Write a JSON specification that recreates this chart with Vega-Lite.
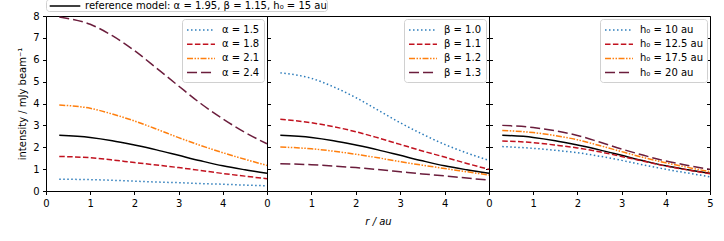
{
  "$schema": "https://vega.github.io/schema/vega-lite/v6.json",
  "padding": {"left": 17, "top": -2, "right": 5, "bottom": 5},
  "spacing": 0,
  "bounds": "flush",
  "datasets": {
    "ref": [
      {"r": 0.3, "v": 2.55}, {"r": 1, "v": 2.45}, {"r": 1.5, "v": 2.3}, {"r": 2, "v": 2.1}, {"r": 2.5, "v": 1.88},
      {"r": 3, "v": 1.63}, {"r": 3.5, "v": 1.38}, {"r": 4, "v": 1.15}, {"r": 4.5, "v": 0.97}, {"r": 5, "v": 0.81}
    ],
    "p1": [
      {"s": "α = 1.5", "r": 0.3, "v": 0.54}, {"s": "α = 1.5", "r": 1, "v": 0.52}, {"s": "α = 1.5", "r": 1.5, "v": 0.49}, {"s": "α = 1.5", "r": 2, "v": 0.45}, {"s": "α = 1.5", "r": 2.5, "v": 0.41},
      {"s": "α = 1.5", "r": 3, "v": 0.38}, {"s": "α = 1.5", "r": 3.5, "v": 0.34}, {"s": "α = 1.5", "r": 4, "v": 0.31}, {"s": "α = 1.5", "r": 4.5, "v": 0.27}, {"s": "α = 1.5", "r": 5, "v": 0.24},
      {"s": "α = 1.8", "r": 0.3, "v": 1.58}, {"s": "α = 1.8", "r": 1, "v": 1.52}, {"s": "α = 1.8", "r": 1.5, "v": 1.42}, {"s": "α = 1.8", "r": 2, "v": 1.3}, {"s": "α = 1.8", "r": 2.5, "v": 1.19},
      {"s": "α = 1.8", "r": 3, "v": 1.07}, {"s": "α = 1.8", "r": 3.5, "v": 0.94}, {"s": "α = 1.8", "r": 4, "v": 0.8}, {"s": "α = 1.8", "r": 4.5, "v": 0.68}, {"s": "α = 1.8", "r": 5, "v": 0.56},
      {"s": "α = 2.1", "r": 0.3, "v": 3.93}, {"s": "α = 2.1", "r": 1, "v": 3.78}, {"s": "α = 2.1", "r": 1.5, "v": 3.52}, {"s": "α = 2.1", "r": 2, "v": 3.2}, {"s": "α = 2.1", "r": 2.5, "v": 2.83},
      {"s": "α = 2.1", "r": 3, "v": 2.44}, {"s": "α = 2.1", "r": 3.5, "v": 2.08}, {"s": "α = 2.1", "r": 4, "v": 1.75}, {"s": "α = 2.1", "r": 4.5, "v": 1.45}, {"s": "α = 2.1", "r": 5, "v": 1.17},
      {"s": "α = 2.4", "r": 0.3, "v": 7.95}, {"s": "α = 2.4", "r": 1, "v": 7.62}, {"s": "α = 2.4", "r": 1.5, "v": 7.1}, {"s": "α = 2.4", "r": 2, "v": 6.42}, {"s": "α = 2.4", "r": 2.5, "v": 5.62},
      {"s": "α = 2.4", "r": 3, "v": 4.8}, {"s": "α = 2.4", "r": 3.5, "v": 4.0}, {"s": "α = 2.4", "r": 4, "v": 3.3}, {"s": "α = 2.4", "r": 4.5, "v": 2.68}, {"s": "α = 2.4", "r": 5, "v": 2.16}
    ],
    "p2": [
      {"s": "β = 1.0", "r": 0.3, "v": 5.4}, {"s": "β = 1.0", "r": 1, "v": 5.15}, {"s": "β = 1.0", "r": 1.5, "v": 4.76}, {"s": "β = 1.0", "r": 2, "v": 4.27}, {"s": "β = 1.0", "r": 2.5, "v": 3.7},
      {"s": "β = 1.0", "r": 3, "v": 3.12}, {"s": "β = 1.0", "r": 3.5, "v": 2.6}, {"s": "β = 1.0", "r": 4, "v": 2.13}, {"s": "β = 1.0", "r": 4.5, "v": 1.74}, {"s": "β = 1.0", "r": 5, "v": 1.4},
      {"s": "β = 1.1", "r": 0.3, "v": 3.28}, {"s": "β = 1.1", "r": 1, "v": 3.12}, {"s": "β = 1.1", "r": 1.5, "v": 2.94}, {"s": "β = 1.1", "r": 2, "v": 2.71}, {"s": "β = 1.1", "r": 2.5, "v": 2.43},
      {"s": "β = 1.1", "r": 3, "v": 2.13}, {"s": "β = 1.1", "r": 3.5, "v": 1.83}, {"s": "β = 1.1", "r": 4, "v": 1.55}, {"s": "β = 1.1", "r": 4.5, "v": 1.26}, {"s": "β = 1.1", "r": 5, "v": 0.99},
      {"s": "β = 1.2", "r": 0.3, "v": 2.01}, {"s": "β = 1.2", "r": 1, "v": 1.93}, {"s": "β = 1.2", "r": 1.5, "v": 1.82}, {"s": "β = 1.2", "r": 2, "v": 1.68}, {"s": "β = 1.2", "r": 2.5, "v": 1.52},
      {"s": "β = 1.2", "r": 3, "v": 1.34}, {"s": "β = 1.2", "r": 3.5, "v": 1.18}, {"s": "β = 1.2", "r": 4, "v": 1.03}, {"s": "β = 1.2", "r": 4.5, "v": 0.88}, {"s": "β = 1.2", "r": 5, "v": 0.73},
      {"s": "β = 1.3", "r": 0.3, "v": 1.25}, {"s": "β = 1.3", "r": 1, "v": 1.2}, {"s": "β = 1.3", "r": 1.5, "v": 1.14}, {"s": "β = 1.3", "r": 2, "v": 1.07}, {"s": "β = 1.3", "r": 2.5, "v": 0.98},
      {"s": "β = 1.3", "r": 3, "v": 0.88}, {"s": "β = 1.3", "r": 3.5, "v": 0.78}, {"s": "β = 1.3", "r": 4, "v": 0.69}, {"s": "β = 1.3", "r": 4.5, "v": 0.59}, {"s": "β = 1.3", "r": 5, "v": 0.5}
    ],
    "p3": [
      {"s": "h₀ = 10 au", "r": 0.3, "v": 2.03}, {"s": "h₀ = 10 au", "r": 1, "v": 1.95}, {"s": "h₀ = 10 au", "r": 1.5, "v": 1.86}, {"s": "h₀ = 10 au", "r": 2, "v": 1.75}, {"s": "h₀ = 10 au", "r": 2.5, "v": 1.59},
      {"s": "h₀ = 10 au", "r": 3, "v": 1.4}, {"s": "h₀ = 10 au", "r": 3.5, "v": 1.19}, {"s": "h₀ = 10 au", "r": 4, "v": 0.99}, {"s": "h₀ = 10 au", "r": 4.5, "v": 0.82}, {"s": "h₀ = 10 au", "r": 5, "v": 0.65},
      {"s": "h₀ = 12.5 au", "r": 0.3, "v": 2.29}, {"s": "h₀ = 12.5 au", "r": 1, "v": 2.21}, {"s": "h₀ = 12.5 au", "r": 1.5, "v": 2.1}, {"s": "h₀ = 12.5 au", "r": 2, "v": 1.97}, {"s": "h₀ = 12.5 au", "r": 2.5, "v": 1.79},
      {"s": "h₀ = 12.5 au", "r": 3, "v": 1.58}, {"s": "h₀ = 12.5 au", "r": 3.5, "v": 1.36}, {"s": "h₀ = 12.5 au", "r": 4, "v": 1.14}, {"s": "h₀ = 12.5 au", "r": 4.5, "v": 0.96}, {"s": "h₀ = 12.5 au", "r": 5, "v": 0.79},
      {"s": "h₀ = 17.5 au", "r": 0.3, "v": 2.77}, {"s": "h₀ = 17.5 au", "r": 1, "v": 2.67}, {"s": "h₀ = 17.5 au", "r": 1.5, "v": 2.53}, {"s": "h₀ = 17.5 au", "r": 2, "v": 2.34}, {"s": "h₀ = 17.5 au", "r": 2.5, "v": 2.08},
      {"s": "h₀ = 17.5 au", "r": 3, "v": 1.8}, {"s": "h₀ = 17.5 au", "r": 3.5, "v": 1.53}, {"s": "h₀ = 17.5 au", "r": 4, "v": 1.29}, {"s": "h₀ = 17.5 au", "r": 4.5, "v": 1.08}, {"s": "h₀ = 17.5 au", "r": 5, "v": 0.88},
      {"s": "h₀ = 20 au", "r": 0.3, "v": 3.0}, {"s": "h₀ = 20 au", "r": 1, "v": 2.9}, {"s": "h₀ = 20 au", "r": 1.5, "v": 2.75}, {"s": "h₀ = 20 au", "r": 2, "v": 2.54}, {"s": "h₀ = 20 au", "r": 2.5, "v": 2.24},
      {"s": "h₀ = 20 au", "r": 3, "v": 1.92}, {"s": "h₀ = 20 au", "r": 3.5, "v": 1.63}, {"s": "h₀ = 20 au", "r": 4, "v": 1.37}, {"s": "h₀ = 20 au", "r": 4.5, "v": 1.17}, {"s": "h₀ = 20 au", "r": 5, "v": 0.99}
    ]
  },
  "hconcat": [
    {
      "width": 221, "height": 175,
      "encoding": {
        "x": {"field": "r", "type": "quantitative", "scale": {"domain": [0, 5], "nice": false}, "axis": {"values": [0, 1, 2, 3, 4], "title": null, "labelOverlap": false}},
        "y": {"field": "v", "type": "quantitative", "scale": {"domain": [0, 8], "nice": false}, "axis": {"values": [0, 1, 2, 3, 4, 5, 6, 7, 8], "title": "intensity / mJy beam⁻¹", "labelOverlap": false}}
      },
      "layer": [
        {
          "data": {"name": "ref"},
          "mark": {"type": "line", "interpolate": "monotone", "strokeWidth": 1.5},
          "encoding": {
            "stroke": {"datum": "reference model: α = 1.95, β = 1.15, h₀ = 15 au", "type": "nominal", "scale": {"range": ["black"]},
              "legend": {"orient": "none", "legendX": 0, "legendY": -17, "title": null, "padding": 0, "symbolType": "M-2.55,0H2.55", "symbolSize": 144, "symbolOffset": 12, "symbolStrokeWidth": 1.5, "labelOffset": 13, "labelFontSize": 10, "labelColor": "black", "strokeColor": null, "fillColor": null, "labelLimit": 600}}
          }
        },
        {
          "data": {"name": "p1"},
          "mark": {"type": "line", "interpolate": "monotone", "strokeWidth": 1.5},
          "encoding": {
            "color": {"field": "s", "type": "nominal", "scale": {"domain": ["α = 1.5", "α = 1.8", "α = 2.1", "α = 2.4"], "range": ["#2b7bba", "#c1121f", "#ff7f0e", "#6b1d3c"]},
              "legend": {"title": null}},
            "strokeDash": {"field": "s", "type": "nominal", "scale": {"domain": ["α = 1.5", "α = 1.8", "α = 2.1", "α = 2.4"], "range": [[1.5, 2.5], [5.5, 2.4], [6, 1.5, 1.5, 1.5, 1.5, 1.5], [10, 4]]},
              "legend": {"title": null}}
          }
        }
      ]
    },
    {
      "width": 222, "height": 175,
      "resolve": {"axis": {"y": "independent"}},
      "encoding": {
        "x": {"field": "r", "type": "quantitative", "scale": {"domain": [0, 5], "nice": false}, "axis": {"values": [0, 1, 2, 3, 4], "title": "r / au", "titleFontStyle": "italic", "titlePadding": 8, "labelOverlap": false}}
      },
      "layer": [
        {
          "data": {"name": "ref"},
          "mark": {"type": "line", "interpolate": "monotone", "strokeWidth": 1.5, "color": "black"},
          "encoding": {
            "y": {"field": "v", "type": "quantitative", "scale": {"domain": [0, 8], "nice": false}, "axis": {"values": [0, 1, 2, 3, 4, 5, 6, 7, 8], "title": null, "labels": false, "tickSize": -3.5}}
          }
        },
        {
          "data": {"name": "p2"},
          "mark": {"type": "line", "interpolate": "monotone", "strokeWidth": 1.5},
          "encoding": {
            "y": {"field": "v", "type": "quantitative", "axis": {"orient": "right", "values": [0, 1, 2, 3, 4, 5, 6, 7, 8], "title": null, "labels": false, "tickSize": -3.5}},
            "color": {"field": "s", "type": "nominal", "scale": {"domain": ["β = 1.0", "β = 1.1", "β = 1.2", "β = 1.3"], "range": ["#2b7bba", "#c1121f", "#ff7f0e", "#6b1d3c"]},
              "legend": {"title": null}},
            "strokeDash": {"field": "s", "type": "nominal", "scale": {"domain": ["β = 1.0", "β = 1.1", "β = 1.2", "β = 1.3"], "range": [[1.5, 2.5], [5.5, 2.4], [6, 1.5, 1.5, 1.5, 1.5, 1.5], [10, 4]]},
              "legend": {"title": null}}
          }
        }
      ]
    },
    {
      "width": 221, "height": 175,
      "resolve": {"axis": {"y": "independent"}},
      "encoding": {
        "x": {"field": "r", "type": "quantitative", "scale": {"domain": [0, 5], "nice": false}, "axis": {"values": [0, 1, 2, 3, 4, 5], "title": null, "labelOverlap": false}}
      },
      "layer": [
        {
          "data": {"name": "ref"},
          "mark": {"type": "line", "interpolate": "monotone", "strokeWidth": 1.5, "color": "black"},
          "encoding": {
            "y": {"field": "v", "type": "quantitative", "scale": {"domain": [0, 8], "nice": false}, "axis": {"values": [0, 1, 2, 3, 4, 5, 6, 7, 8], "title": null, "labels": false, "tickSize": -3.5}}
          }
        },
        {
          "data": {"name": "p3"},
          "mark": {"type": "line", "interpolate": "monotone", "strokeWidth": 1.5},
          "encoding": {
            "y": {"field": "v", "type": "quantitative", "axis": {"orient": "right", "values": [0, 1, 2, 3, 4, 5, 6, 7, 8], "title": null, "labels": false, "tickSize": -3.5}},
            "color": {"field": "s", "type": "nominal", "scale": {"domain": ["h₀ = 10 au", "h₀ = 12.5 au", "h₀ = 17.5 au", "h₀ = 20 au"], "range": ["#2b7bba", "#c1121f", "#ff7f0e", "#6b1d3c"]},
              "legend": {"title": null}},
            "strokeDash": {"field": "s", "type": "nominal", "scale": {"domain": ["h₀ = 10 au", "h₀ = 12.5 au", "h₀ = 17.5 au", "h₀ = 20 au"], "range": [[1.5, 2.5], [5.5, 2.4], [6, 1.5, 1.5, 1.5, 1.5, 1.5], [10, 4]]},
              "legend": {"title": null}}
          }
        }
      ]
    }
  ],
  "resolve": {
    "scale": {"color": "independent", "strokeDash": "independent", "stroke": "independent"},
    "legend": {"color": "independent", "strokeDash": "independent", "stroke": "independent"}
  },
  "config": {
    "font": "DejaVu Sans",
    "view": {"stroke": "black", "strokeWidth": 1},
    "axis": {
      "domain": false, "grid": false, "tickColor": "black", "tickSize": 3.5, "tickWidth": 1,
      "labelColor": "black", "labelFontSize": 10, "labelPadding": 3.5, "labelFlush": false, "labelBound": false, "labelOverlap": false,
      "titleColor": "black", "titleFontSize": 10, "titleFontWeight": "normal", "titlePadding": 5
    },
    "legend": {
      "orient": "top-right", "offset": 3, "padding": 4, "cornerRadius": 3,
      "strokeColor": "#d0d0d0", "fillColor": "rgba(255,255,255,0.8)",
      "symbolType": "M-2.33,0H2.33", "symbolSize": 144, "symbolOffset": 8, "symbolStrokeWidth": 1.5,
      "labelFontSize": 10, "labelColor": "black", "labelOffset": 14, "rowPadding": 2.2, "labelLimit": 300
    }
  }
}
